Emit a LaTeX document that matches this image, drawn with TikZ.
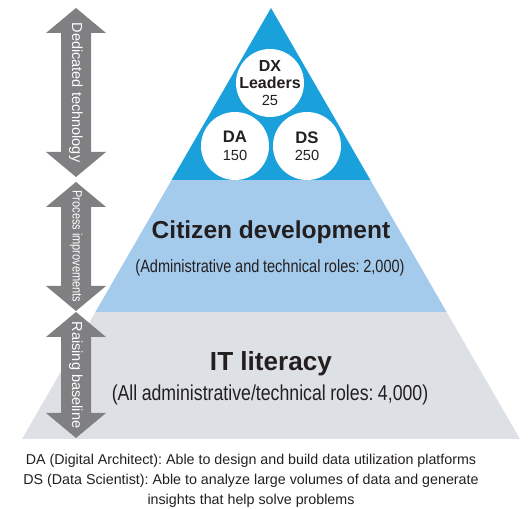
\documentclass[tikz,border=0pt]{standalone}
\usepackage{fontspec}
\setmainfont{Liberation Sans}
\newfontfamily\condfont[FakeStretch=0.82,WordSpace=0.9]{Liberation Sans}
\usepackage{xcolor}
\definecolor{topblue}{HTML}{1AA0DA}
\definecolor{midblue}{HTML}{A5CBEC}
\definecolor{basegray}{HTML}{DDE1E5}
\definecolor{arrowgray}{HTML}{808082}
\definecolor{inkdark}{HTML}{231F20}
\frenchspacing

\begin{document}
\begin{tikzpicture}[x=0.75pt,y=-0.75pt]

\tikzset{bubble/.style = {shape=circle,fill=white,minimum size=51pt,inner sep=0}}
\tikzset{bubbletext/.style = {align=center,text=inkdark,inner sep=0,font=\fontsize{12.5}{13}\selectfont}}
\tikzset{updown/.style = {fill=arrowgray}}
\tikzset{side/.style = {text=white,rotate=-90,inner sep=0,font=\fontsize{10.9}{12}\selectfont}}
\tikzset{title/.style = {text=inkdark,font=\bfseries\fontsize{18.4}{22}\selectfont}}
\tikzset{sub/.style = {text=inkdark,font=\condfont\fontsize{13.3}{16}\selectfont}}
\useasboundingbox (0,0) rectangle (529,509);

%layers
\fill[basegray] (95.4,312) -- (446.6,312) -- (520,439) -- (22,439) -- cycle;
\fill[midblue] (171.6,180) -- (370.4,180) -- (446.6,312) -- (95.4,312) -- cycle;
\fill[topblue] (271,8) -- (370.4,180) -- (171.6,180) -- cycle;

%circles
\node[bubble] (dx) at (270,83) {};
\node[bubble] (da) at (235,146) {};
\node[bubble] (ds) at (307,146) {};
\node[bubbletext,font=\fontsize{12}{13}\selectfont] (dxtext) at (dx.center) {\textbf{DX}\\\textbf{Leaders}\\{\fontsize{11}{13}\selectfont 25}};
\node[bubbletext] (datext) at (da.center) {\textbf{DA}\\{\fontsize{11}{13}\selectfont 150}};
\node[bubbletext] (dstext) at (ds.center) {\textbf{DS}\\{\fontsize{11}{13}\selectfont 250}};

%layer labels
\node[title] (citizen) at (271,232) {Citizen development};
\node[sub] (citizensub) at (270,268) {(Administrative and technical roles: 2,000)};
\node[title,font=\bfseries\fontsize{19.6}{22}\selectfont] (literacy) at (271,364) {IT literacy};
\node[sub,font=\condfont\fontsize{16.2}{18}\selectfont] (literacysub) at (270,395) {(All administrative/technical roles: 4,000)};

%side arrows
\fill[updown] (76,8) -- (106,33) -- (91,33) -- (91,152) -- (106,152) -- (76,177) -- (46,152) -- (61,152) -- (61,33) -- (46,33) -- cycle;
\fill[updown] (76,182) -- (106,207) -- (91,207) -- (91,286) -- (106,286) -- (76,311) -- (46,286) -- (61,286) -- (61,207) -- (46,207) -- cycle;
\fill[updown] (76,312) -- (106,337) -- (91,337) -- (91,413) -- (106,413) -- (76,438) -- (46,413) -- (61,413) -- (61,337) -- (46,337) -- cycle;
\node[side] (dedicated) at (76,92.5) {Dedicated technology};
\node[side,font=\condfont\fontsize{10.1}{12}\selectfont] (process) at (76,246.5) {Process improvements};
\node[side] (raising) at (76,375) {Raising baseline};

%notes
\node[text=inkdark,align=center,font=\fontsize{10.7}{15}\selectfont] (notes) at (251,481) {DA (Digital Architect): Able to design and build data utilization platforms\\DS (Data Scientist): Able to analyze large volumes of data and generate\\insights that help solve problems};
\end{tikzpicture}
\end{document}
